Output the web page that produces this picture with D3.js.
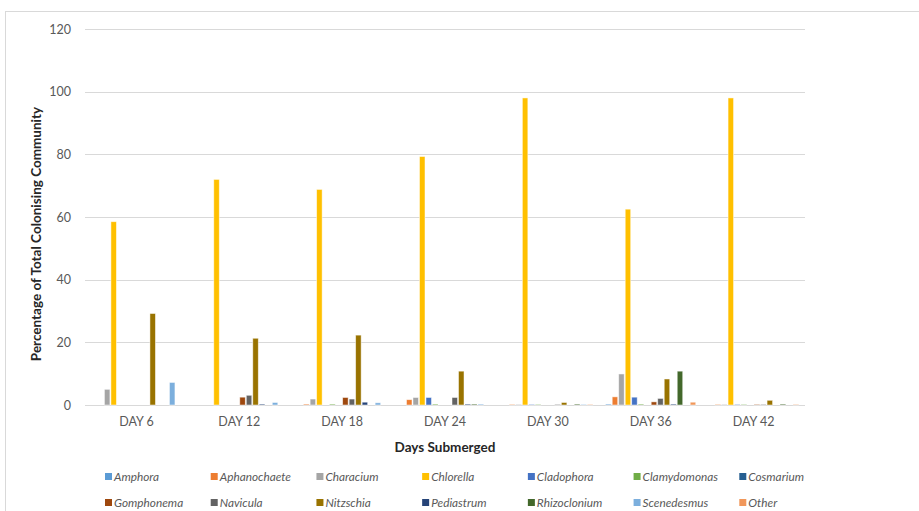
<!DOCTYPE html>
<html>
<head>
<meta charset="utf-8">
<script src="https://cdn.jsdelivr.net/npm/d3@7"></script>
<style>
  html, body { margin: 0; padding: 0; background: #fff; }
  svg { display: block; font-family: Lato, "Open Sans", "Liberation Sans", sans-serif; }
</style>
</head>
<body>
<svg id="chart" width="919" height="511"></svg>
<script>
// Sampling days (categories)
const days = ["DAY 6", "DAY 12", "DAY 18", "DAY 24", "DAY 30", "DAY 36", "DAY 42"];

// Taxa in legend order
const taxa = ["Amphora", "Aphanochaete", "Characium", "Chlorella", "Cladophora", "Clamydomonas",
  "Cosmarium", "Gomphonema", "Navicula", "Nitzschia", "Pediastrum", "Rhizoclonium", "Scenedesmus", "Other"];

// Percentage of total colonising community, one array per taxon (by day)
const amphora      = [0,    0,    0,    0,    0,    0.3,  0];
const aphanochaete = [0,    0,    0.3,  1.7,  0.2,  2.6,  0.2];
const characium    = [5.0,  0,    1.9,  2.4,  0.2,  9.9,  0.2];
const chlorella    = [58.5, 72.0, 68.8, 79.3, 98.0, 62.5, 98.0];
const cladophora   = [0,    0,    0,    2.4,  0.2,  2.5,  0.2];
const clamydomonas = [0,    0,    0.3,  0.3,  0.2,  0.3,  0.2];
const cosmarium    = [0,    0,    0,    0,    0,    0,    0];
const gomphonema   = [0,    2.5,  2.4,  0,    0,    1.0,  0.2];
const navicula     = [0,    3.1,  1.9,  2.4,  0.2,  2.1,  0.2];
const nitzschia    = [29.2, 21.3, 22.3, 10.8, 0.8,  8.3,  1.5];
const pediastrum   = [0,    0.3,  0.9,  0.3,  0,    0.3,  0];
const rhizoclonium = [0,    0,    0,    0.3,  0.3,  10.8, 0.3];
const scenedesmus  = [7.2,  0.8,  0.7,  0.3,  0.2,  0,    0];
const other        = [0,    0,    0,    0,    0.2,  0.9,  0.2];

const seriesValues = [amphora, aphanochaete, characium, chlorella, cladophora, clamydomonas,
  cosmarium, gomphonema, navicula, nitzschia, pediastrum, rhizoclonium, scenedesmus, other];

const colors = ["#5B9BD5", "#ED7D31", "#A5A5A5", "#FFC000", "#4472C4", "#70AD47", "#255E91",
  "#9E480E", "#636363", "#997300", "#264478", "#43682B", "#7CAFDD", "#F1975A"];

const yTicks = [0, 20, 40, 60, 80, 100, 120];

const svg = d3.select("#chart");
const W = 919, H = 511;
const plot = { left: 85, right: 805, top: 29, bottom: 405 };

// chart area frame
svg.append("rect")
  .attr("x", 5.5).attr("y", 11.5)
  .attr("width", W + 10).attr("height", H + 10)
  .attr("fill", "#fff").attr("stroke", "#d9d9d9").attr("stroke-width", 1);

const x0 = d3.scaleBand().domain(days).range([plot.left, plot.right])
  .paddingInner(0.115).paddingOuter(0.0575);
const x1 = d3.scaleBand().domain(taxa).range([0, x0.bandwidth()]).padding(0);
const y = d3.scaleLinear().domain([0, 120]).range([plot.bottom, plot.top]);

// horizontal gridlines
svg.append("g")
  .selectAll("line").data(yTicks).join("line")
  .attr("x1", plot.left).attr("x2", plot.right)
  .attr("y1", d => Math.round(y(d)) + 0.5).attr("y2", d => Math.round(y(d)) + 0.5)
  .attr("stroke", "#d9d9d9").attr("stroke-width", 1);

// y axis labels
const yAxis = d3.axisLeft(y).tickValues(yTicks).tickSize(0).tickPadding(0);
const gy = svg.append("g").attr("transform", `translate(71,0)`).call(yAxis);
gy.select(".domain").remove();
gy.selectAll("text").attr("font-size", 12.5).attr("fill", "#595959")
  .style("font-family", "Lato, 'Open Sans', sans-serif");

// bars
const groups = svg.append("g").selectAll("g")
  .data(days).join("g")
  .attr("transform", d => `translate(${x0(d)},0)`);

groups.selectAll("rect")
  .data((d, i) => taxa.map((t, k) => ({ taxon: t, k, value: seriesValues[k][i] })))
  .join("rect")
  .filter(d => d.value > 0)
  .attr("x", d => x1(d.taxon) + 0.5)
  .attr("width", x1.bandwidth() - 1)
  .attr("y", d => y(d.value))
  .attr("height", d => y(0) - y(d.value))
  .attr("fill", d => colors[d.k])
  .attr("stroke", "#fff").attr("stroke-opacity", 0.6).attr("stroke-width", 0.8);

// x axis category labels
const xAxis = d3.axisBottom(x0).tickSize(0).tickPadding(0);
const gx = svg.append("g").attr("transform", `translate(0,${plot.bottom + 12})`).call(xAxis);
gx.select(".domain").remove();
gx.selectAll("text").attr("font-size", 12.5).attr("fill", "#595959")
  .style("font-family", "Lato, 'Open Sans', sans-serif");

// axis titles
svg.append("text")
  .attr("x", (plot.left + plot.right) / 2).attr("y", 452)
  .attr("text-anchor", "middle").attr("font-size", 13.5).attr("font-weight", "bold")
  .attr("fill", "#262626").text("Days Submerged");

svg.append("text")
  .attr("transform", `translate(41,234) rotate(-90)`)
  .attr("text-anchor", "middle").attr("font-size", 13.5).attr("font-weight", "bold")
  .attr("fill", "#262626").text("Percentage of Total Colonising Community");

// legend: two rows of seven
const legX = d3.scaleLinear().domain([0, 6]).range([105, 739.3]);
const legend = svg.append("g").selectAll("g")
  .data(taxa).join("g")
  .attr("transform", (d, i) => `translate(${legX(i % 7)},${i < 7 ? 481 : 507})`);
legend.append("rect")
  .attr("x", 0).attr("y", -8).attr("width", 7).attr("height", 7)
  .attr("fill", (d, i) => colors[i]);
legend.append("text")
  .attr("x", 9).attr("y", 0)
  .attr("font-size", 11.8).attr("font-style", "italic").attr("fill", "#595959")
  .text(d => d);
</script>
</body>
</html>
